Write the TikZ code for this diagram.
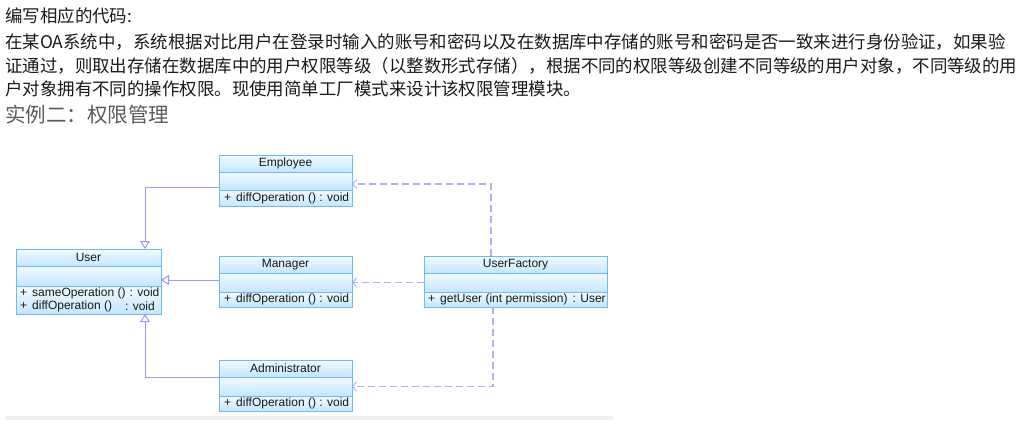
\documentclass[tikz,border=0pt]{standalone}
\usepackage{fontspec}
\setmainfont{Liberation Sans}
\newfontfamily\cjk{Noto Sans CJK SC}
\usetikzlibrary{arrows.meta}
\definecolor{umlline}{RGB}{160,150,255}
\definecolor{umlborder}{RGB}{110,185,250}
\definecolor{umltop}{RGB}{242,250,255}
\definecolor{umlbot}{RGB}{196,230,255}
\definecolor{txt}{RGB}{25,25,25}
\definecolor{headgray}{RGB}{90,90,90}
\newcommand\umlbox[8]{%
  \node[part, minimum width=#4pt, minimum height=#5pt] (#1-t) at (#2,#3) {#8};
  \node[part, minimum width=#4pt, minimum height=#6pt] (#1-a) at (#1-t.south west) {};
  \node[part, minimum width=#4pt, minimum height=#7pt] (#1-o) at (#1-a.south west) {};
}
\begin{document}
\begin{tikzpicture}[x=1pt,y=-1pt,
  part/.style={draw=umlborder, line width=1pt, top color=umltop, bottom color=umlbot,
    inner sep=0pt, outer sep=0pt, anchor=north west, font=\fontsize{12}{14}\selectfont, text=txt},
  optext/.style={anchor=west, inner sep=0pt, font=\fontsize{12}{14}\selectfont, text=txt},
  para/.style={anchor=west, inner sep=0pt, font=\cjk\fontsize{17.45}{20}\selectfont, text=txt},
  gen/.style={draw=umlline, line width=1pt, -{Triangle[open, length=8pt, width=10pt]}},
  dep/.style={draw=umlline!80!white, line width=1.3pt, dash pattern=on 7pt off 4pt,
    -{Straight Barb[length=4pt, width=9pt, line width=0.9pt]}}
]
\useasboundingbox (0,0) rectangle (1032,425);

% text
\node[para] (l1) at (5,15.7) {编写相应的代码:};
\node[para] (l2) at (5,41.7) {在某OA系统中，系统根据对比用户在登录时输入的账号和密码以及在数据库中存储的账号和密码是否一致来进行身份验证，如果验};
\node[para] (l3) at (5,66) {证通过，则取出存储在数据库中的用户权限等级（以整数形式存储），根据不同的权限等级创建不同等级的用户对象，不同等级的用};
\node[para] (l4) at (5,89.3) {户对象拥有不同的操作权限。现使用简单工厂模式来设计该权限管理模块。};
\node[anchor=west, inner sep=0pt, font=\cjk\fontsize{20.5}{24}\selectfont, text=headgray] (h) at (5,115) {实例二：权限管理};

% classes
\umlbox{emp}{219}{155}{133}{17}{18}{16}{Employee}
\umlbox{mgr}{219}{256}{133}{17}{19}{15}{Manager}
\umlbox{adm}{219}{360}{133}{17}{19}{15}{Administrator}
\umlbox{usr}{16}{249}{145}{17}{20}{28}{User}
\umlbox{uf}{424}{256}{183}{17}{19}{15}{UserFactory}

\node[optext] (emp-op) at ([xshift=5pt]emp-o.west) {+\hspace{5pt}diffOperation () : void};
\node[optext] (mgr-op) at ([xshift=5pt]mgr-o.west) {+\hspace{5pt}diffOperation () : void};
\node[optext] (adm-op) at ([xshift=5pt]adm-o.west) {+\hspace{5pt}diffOperation () : void};
\node[optext] (uf-op) at ([xshift=4pt]uf-o.west) {+\hspace{5pt}getUser (int permission)\hspace{5pt}: User};
\node[optext] (usr-op1) at ([xshift=4pt, yshift=6.5pt]usr-o.west) {+\hspace{5pt}sameOperation ()\hspace{4pt}: void};
\node[optext] (usr-op2) at ([xshift=4pt, yshift=-6.5pt]usr-o.west) {+\hspace{5pt}diffOperation ()};
\node[optext, anchor=east] (usr-op2b) at ([xshift=-6pt, yshift=-6.5pt]usr-o.east) {: void};

% generalizations
\draw[gen] ([yshift=3pt]emp-a.south west) -| ([xshift=-16pt]usr-t.north east);
\draw[gen] ([yshift=2.5pt]mgr-a.west) -- ([yshift=2.5pt]mgr-a.west -| usr-a.east);
\draw[gen] (adm-t.south west) -| ([xshift=-16pt]usr-o.south east);

% dependencies
\draw[dep] ([xshift=67pt]uf-t.north west) |- ([yshift=-3pt]emp-a.east);
\draw[dep] (uf-a.west) -- (uf-a.west -| mgr-a.east);
\draw[dep] ([xshift=69pt]uf-o.south west) |- (adm-a.east);

% bottom scroll bar
\fill[gray!12] (5,416) rectangle (613,420);
\end{tikzpicture}
\end{document}
